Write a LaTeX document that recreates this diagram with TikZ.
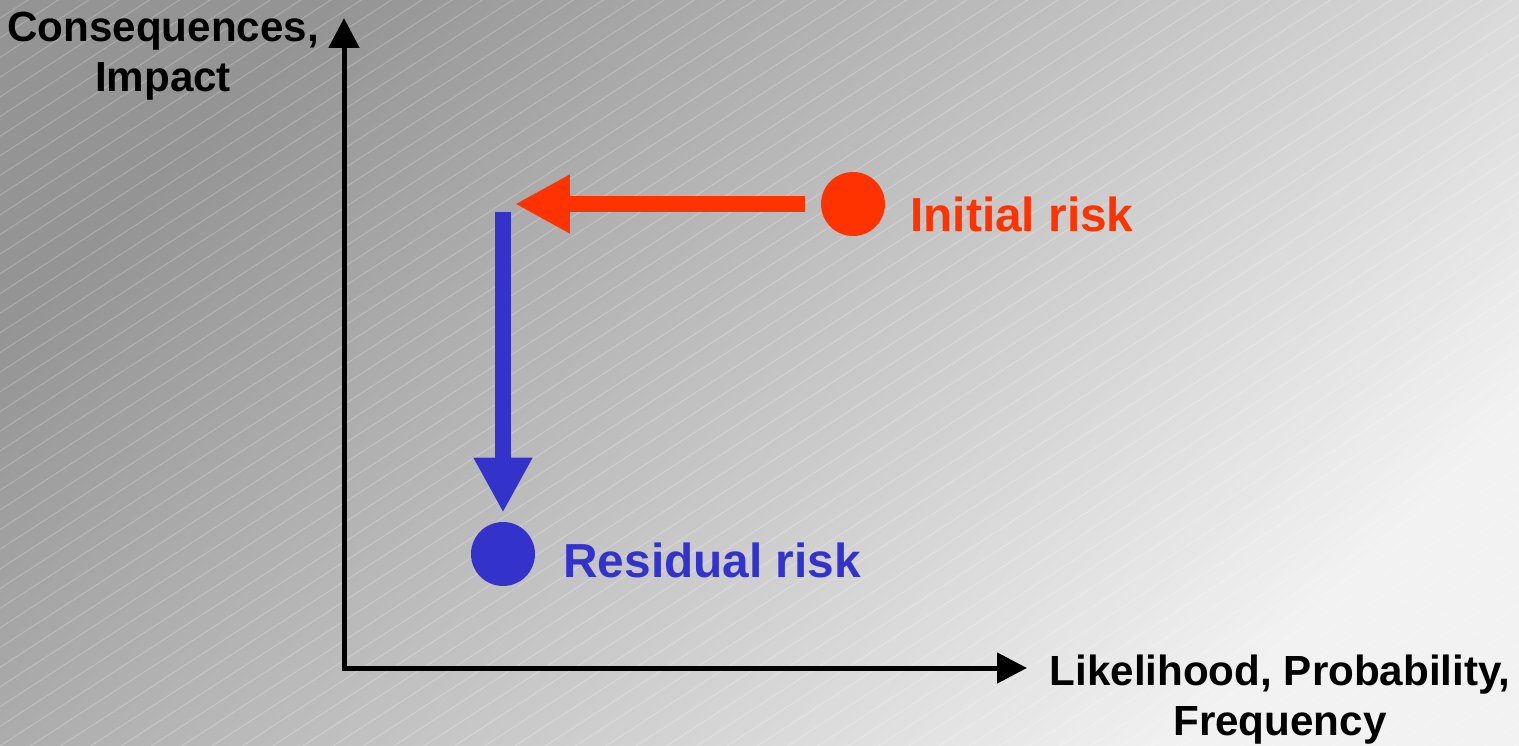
\documentclass[tikz,border=0pt]{standalone}
\usepackage{fontspec}
\setmainfont{Liberation Sans}
\usetikzlibrary{arrows.meta, patterns.meta}
\definecolor{riskred}{RGB}{255, 51, 0}
\definecolor{riskblue}{RGB}{51, 51, 204}
\definecolor{bgdark}{RGB}{148, 148, 148}
\definecolor{bglight}{RGB}{242, 242, 242}

\begin{document}
\begin{tikzpicture}[
  x=0.02cm, y=-0.02cm,
  axis/.style={line width=0.1cm, {Triangle[length=0.6cm, width=0.6cm]}-{Triangle[length=0.6cm, width=0.6cm]}},
  riskdot/.style={circle, fill=#1, minimum size=1.28cm, inner sep=0pt},
  move/.style={draw=#1, line width=0.33cm, -{Triangle[length=1.1cm, width=1.1cm]}},
  axislabel/.style={font=\fontsize{24}{28.5}\selectfont\bfseries, align=center, inner sep=0pt},
  risklabel/.style={font=\fontsize{27.2}{30}\selectfont\bfseries, text=#1, inner sep=0pt, anchor=base west}
]
  \useasboundingbox (0,0) rectangle (1519,746);
  \shade[top color=bgdark, bottom color=bglight, shading angle=45] (0,0) rectangle (1519,746);
  \fill[pattern={Lines[angle=33, distance=0.33cm, line width=0.02cm]}, pattern color=white, opacity=0.22] (0,0) rectangle (1519,746);

  \coordinate (origin) at (344,668);
  \coordinate (ytip) at (344,18);
  \coordinate (xtip) at (1027,668);
  \draw[axis] (ytip) -- (origin) -- (xtip);

  \node[axislabel] (yname) at (163,56) {Consequences,\\Impact};
  \node[axislabel] (xname) at (1280,700) {Likelihood, Probability,\\Frequency};

  \node[riskdot=riskred] (init) at (853,204) {};
  \node[riskdot=riskblue] (resid) at (503,554) {};
  \node[risklabel=riskred] (initname) at (910,232) {Initial risk};
  \node[risklabel=riskblue] (residname) at (563,578) {Residual risk};

  \coordinate (redtip) at (515,204);
  \coordinate (bluetop) at (503,212);
  \draw[move=riskred, shorten <=0.32cm] (init.west) -- (redtip);
  \draw[move=riskblue, shorten >=0.18cm] (bluetop) -- (resid.north);
\end{tikzpicture}
\end{document}
